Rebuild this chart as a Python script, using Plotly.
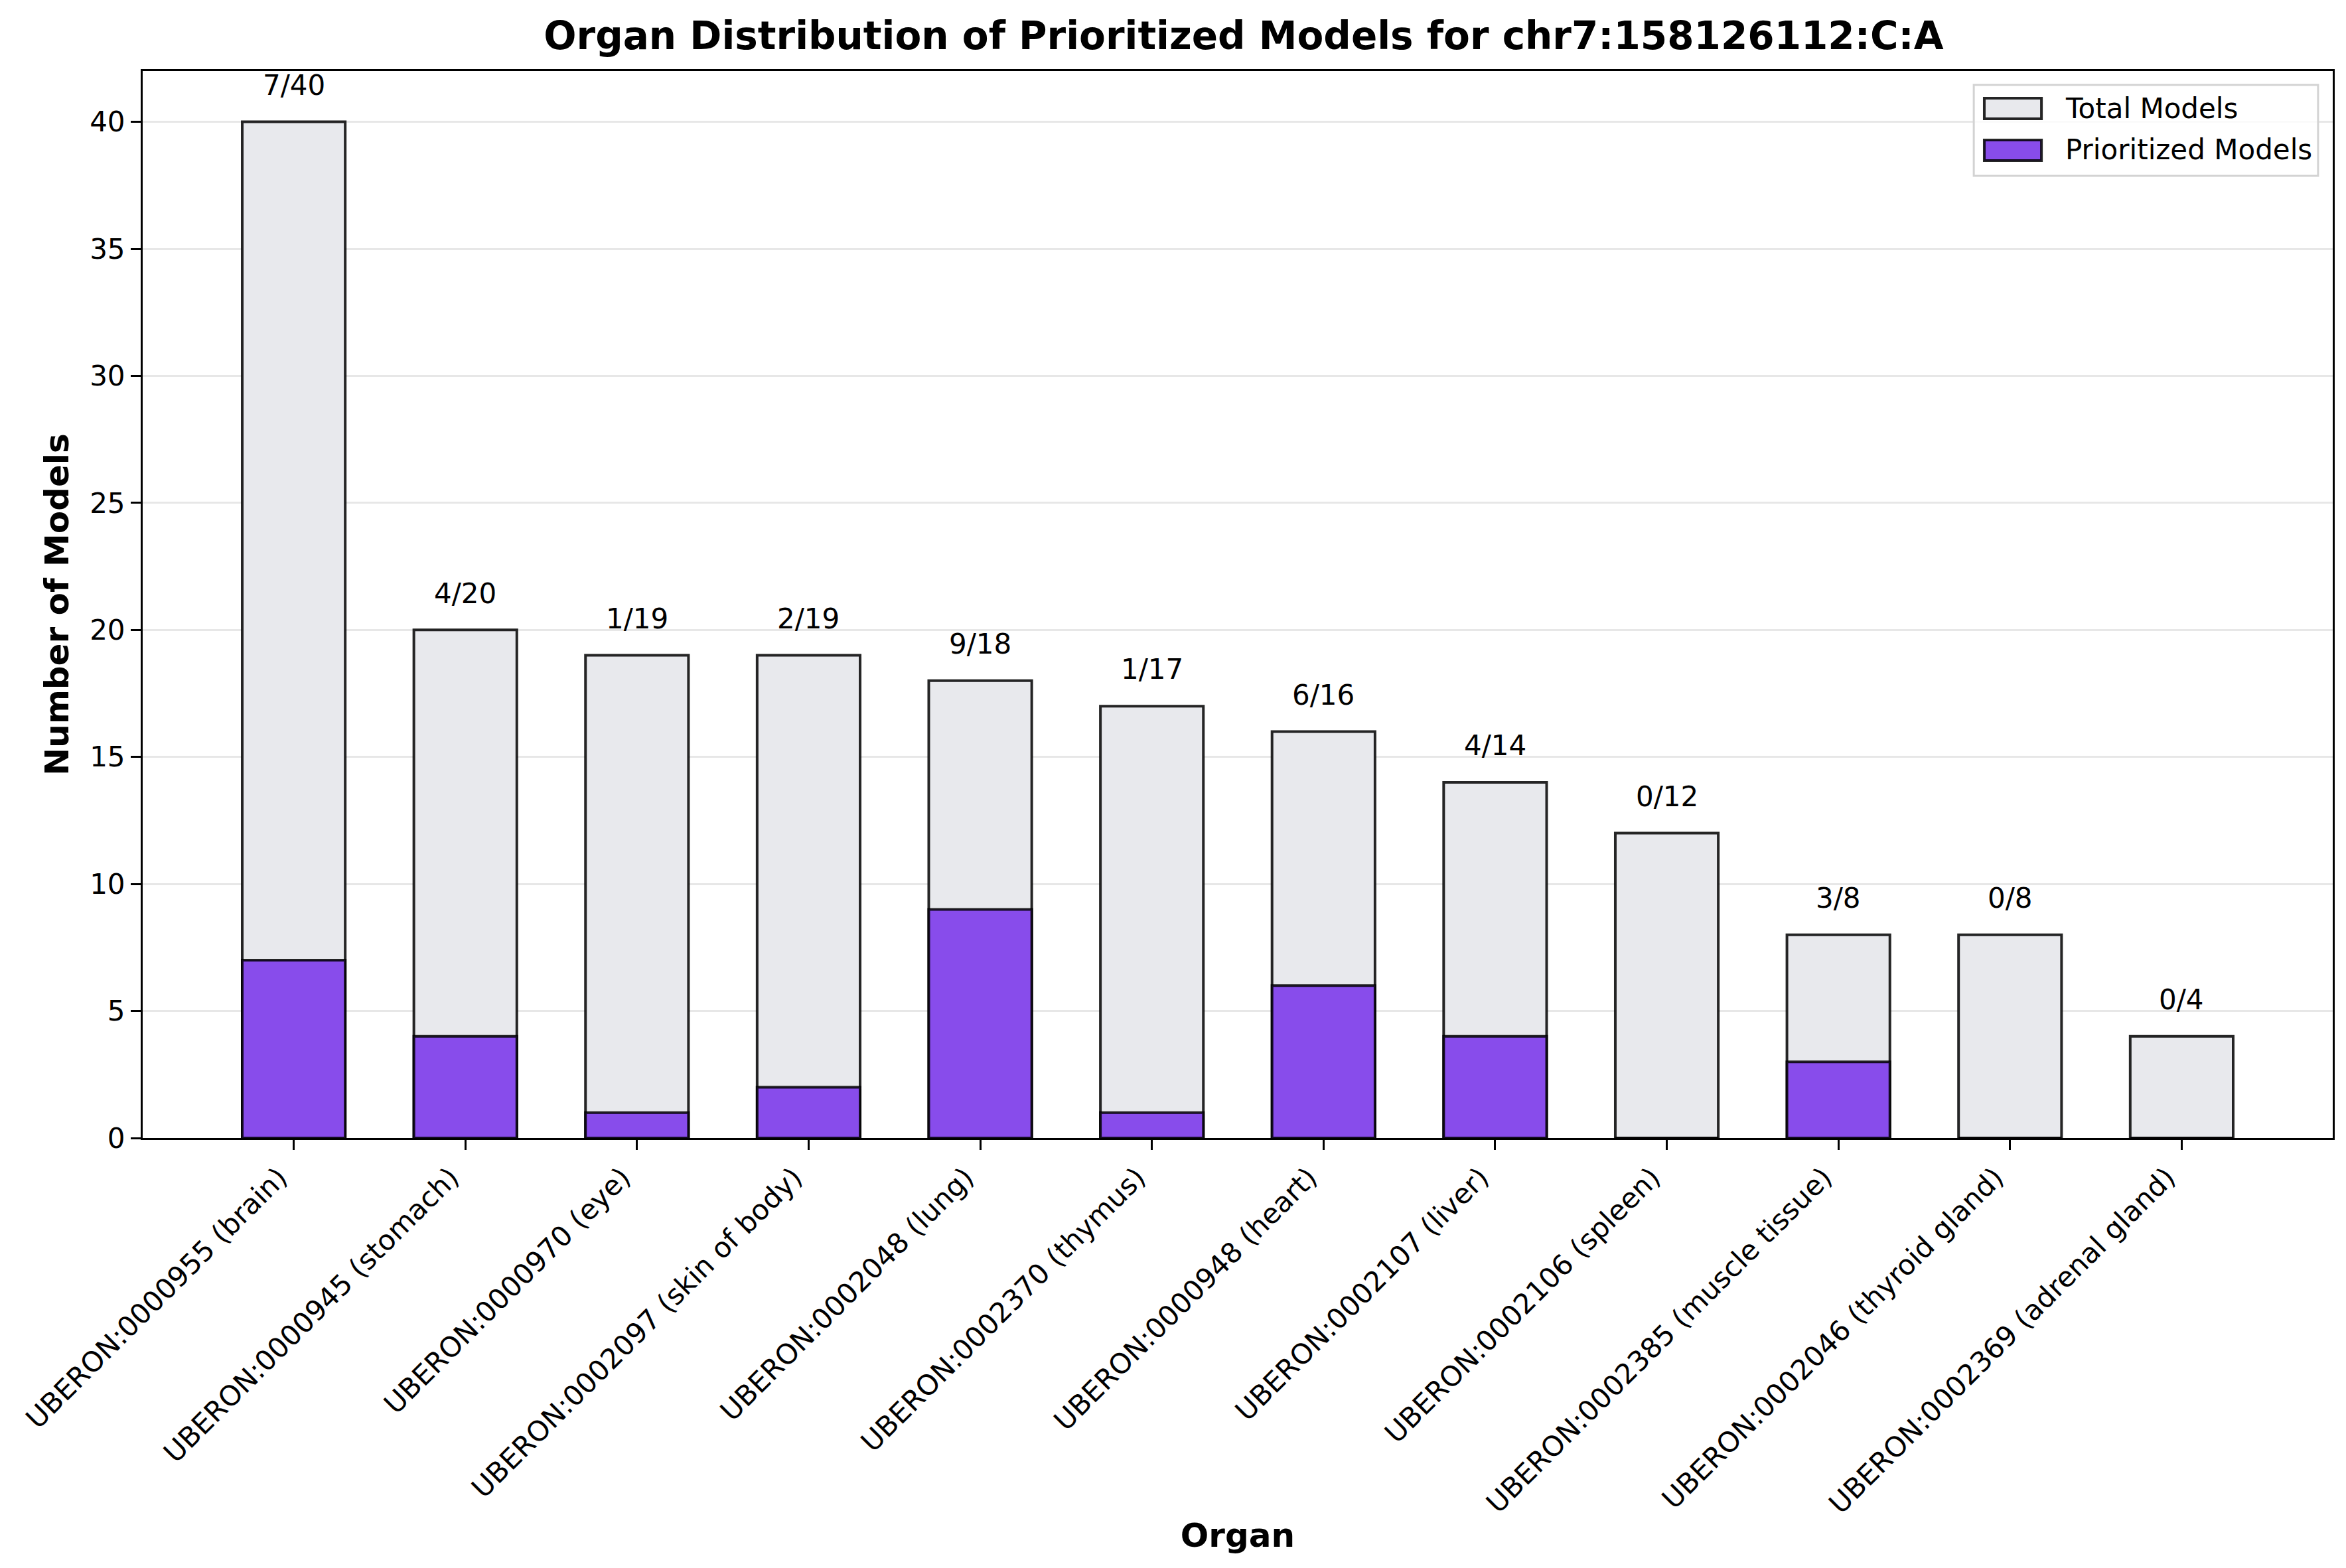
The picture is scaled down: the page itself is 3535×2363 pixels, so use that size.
import plotly.graph_objects as go

organs = ["UBERON:0000955 (brain)", "UBERON:0000945 (stomach)", "UBERON:0000970 (eye)",
          "UBERON:0002097 (skin of body)", "UBERON:0002048 (lung)", "UBERON:0002370 (thymus)",
          "UBERON:0000948 (heart)", "UBERON:0002107 (liver)", "UBERON:0002106 (spleen)",
          "UBERON:0002385 (muscle tissue)", "UBERON:0002046 (thyroid gland)",
          "UBERON:0002369 (adrenal gland)"]
total_models = [40, 20, 19, 19, 18, 17, 16, 14, 12, 8, 8, 4]
prioritized_models = [7, 4, 1, 2, 9, 1, 6, 4, 0, 3, 0, 0]
y_ticks = [0, 5, 10, 15, 20, 25, 30, 35, 40]
series_names = ["Total Models", "Prioritized Models"]
series_colors = ["#E8E9ED", "#884CEB"]

FONT = "DejaVu Sans"
EDGE = "rgba(0,0,0,0.85)"
x = list(range(len(organs)))
edge = dict(color=EDGE, width=4)

fig = go.Figure()
fig.add_trace(go.Bar(x=x, y=total_models, width=0.6, name=series_names[0],
                     marker=dict(color=series_colors[0], line=edge), showlegend=False))
fig.add_trace(go.Bar(x=x, y=prioritized_models, width=0.6, name=series_names[1],
                     marker=dict(color=series_colors[1], line=edge), showlegend=False))

for i, (p, t) in enumerate(zip(prioritized_models, total_models)):
    fig.add_annotation(x=i, y=t + 0.75, text=f"{p}/{t}", showarrow=False,
                       yanchor="bottom", xanchor="center",
                       font=dict(family=FONT, size=42, color="black"))

# matplotlib-style legend (upper right), in plot-area (paper) coordinates
fig.add_shape(type="rect", xref="paper", yref="paper",
              x0=0.8361, x1=0.9933, y0=0.9017, y1=0.9869,
              line=dict(color="#D3D3D3", width=3), fillcolor="rgba(255,255,255,0.8)",
              layer="above")
legend_rows = [(0.9552, 0.9745, 0.9646), (0.9160, 0.9353, 0.9260)]
for (y0, y1, yc), name, col in zip(legend_rows, series_names, series_colors):
    fig.add_shape(type="rect", xref="paper", yref="paper",
                  x0=0.8409, x1=0.8670, y0=y0, y1=y1,
                  line=dict(color=EDGE, width=4), fillcolor=col, layer="above")
    fig.add_annotation(xref="paper", yref="paper", x=0.8773, y=yc, text=name,
                       showarrow=False, xanchor="left", yanchor="middle",
                       font=dict(family=FONT, size=42, color="black"))

fig.update_layout(
    width=3535, height=2363,
    barmode="overlay",
    plot_bgcolor="white", paper_bgcolor="white",
    margin=dict(l=207, r=28, t=99, b=656),
    font=dict(family=FONT, size=42, color="black"),
    title=dict(text="<b>Organ Distribution of Prioritized Models for chr7:158126112:C:A</b>",
               x=0.5027, xref="paper", xanchor="center", y=0.9894, yref="container",
               yanchor="top", font=dict(family=FONT, size=58, color="black")),
    showlegend=False,
)

fig.update_xaxes(
    range=[-0.88, 11.88], tickmode="array", tickvals=x, ticktext=organs,
    tickangle=-45, ticks="outside", ticklen=15, tickwidth=3, tickcolor="black",
    ticklabelshift=-22,
    showline=True, linecolor="black", linewidth=3, mirror=True,
    showgrid=False, zeroline=False,
    tickfont=dict(family=FONT, size=42),
    title=dict(text="<b>Organ</b>", font=dict(family=FONT, size=50), standoff=7),
)
fig.update_yaxes(
    range=[0, 42], tickmode="array", tickvals=y_ticks,
    ticks="outside", ticklen=15, tickwidth=3, tickcolor="black",
    showline=True, linecolor="black", linewidth=3, mirror=True,
    showgrid=True, gridcolor="#E7E7E7", gridwidth=3, zeroline=False,
    tickfont=dict(family=FONT, size=42),
    title=dict(text="<b>Number of Models</b>", font=dict(family=FONT, size=50), standoff=16),
)

fig.write_html("out.html")
